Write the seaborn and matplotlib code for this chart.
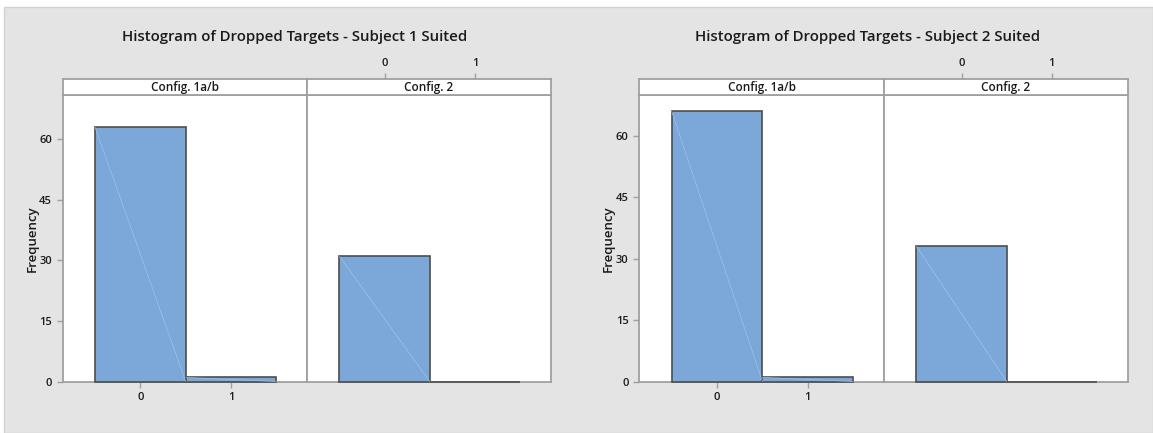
import matplotlib
matplotlib.use("Agg")
import matplotlib.pyplot as plt
import seaborn as sns
from matplotlib.patches import Rectangle

# ---------------------------------------------------------------------------
# Data (counts per number of dropped targets)
# ---------------------------------------------------------------------------
dropped = [0, 1]
configs = ["Config. 1a/b", "Config. 2"]
titles = ["Histogram of Dropped Targets - Subject 1 Suited",
          "Histogram of Dropped Targets - Subject 2 Suited"]
subj1_cfg1 = [63, 1]
subj1_cfg2 = [31, 0]
subj2_cfg1 = [66, 1]
subj2_cfg2 = [33, 0]
y_ticks = [0, 15, 30, 45, 60]

W, H = 1153, 433
BAR = "#7ba7d9"
EDGE = "#4d4d4d"
FRAME = "#a0a0a0"
TXT = "#1a1a1a"

sns.set_style("white")
plt.rcParams["font.family"] = ["Open Sans", "DejaVu Sans"]


def px_rect(x0, y0, x1, y1):
    # image pixel box (y down) -> figure fraction rect
    return [x0 / W, 1 - y1 / H, (x1 - x0) / W, (y1 - y0) / H]


fig = plt.figure(figsize=(W / 100, H / 100), dpi=100)
fig.patch.set_facecolor("white")
fig.patches.append(Rectangle((4 / W, 0), 1 - 4 / W, (H - 7) / H,
                             transform=fig.transFigure, facecolor="#e4e4e4",
                             edgecolor="#d2d2d2", linewidth=1.0, zorder=-10))

panels = [
    dict(x=(62.5, 307, 550.7), ylab_x=32, title_x=295, ytop=71.0,
         counts=[subj1_cfg1, subj1_cfg2], title=titles[0]),
    dict(x=(639, 884, 1127.5), ylab_x=608, title_x=868, ytop=70.0,
         counts=[subj2_cfg1, subj2_cfg2], title=titles[1]),
]
XLIM = (-0.86, 1.84)
STRIP_TOP, STRIP_BOT, AX_BOT = 79, 95, 381.5
TICK_KW = dict(colors=FRAME, labelcolor=TXT, labelsize=8, direction="out",
               length=4, width=1)

for p in panels:
    xs = p["x"]
    for i, (cfg, counts) in enumerate(zip(configs, p["counts"])):
        ax = fig.add_axes(px_rect(xs[i], STRIP_BOT, xs[i + 1], AX_BOT))
        ax.set_facecolor("white")
        sns.histplot(x=dropped, weights=counts, discrete=True, ax=ax,
                     color=BAR, edgecolor=EDGE, linewidth=1.2, alpha=1.0)
        # faint diagonal streak that Minitab leaves across each bar
        for bar in ax.patches:
            bar.set_zorder(3)
            bar.set_clip_on(False)
            if bar.get_height() > 0:
                ax.plot([bar.get_x(), bar.get_x() + bar.get_width()],
                        [bar.get_height(), 0], color="#a3c1e8", lw=0.5,
                        zorder=4)
        ax.set_xlim(*XLIM)
        ax.set_ylim(0, p["ytop"])
        for s in ax.spines.values():
            s.set_color(FRAME)
            s.set_linewidth(1.3)
        ax.set_xlabel("")
        ax.set_ylabel("")
        ax.tick_params(**TICK_KW)
        if i == 0:
            ax.set_yticks(y_ticks)
            ax.set_xticks(dropped)
            ax.tick_params(axis="both", left=True, bottom=True)
        else:
            ax.set_yticks([])
            ax.set_xticks([])
        for lab in ax.get_xticklabels() + ax.get_yticklabels():
            lab.set_fontweight("semibold")

        # strip header
        st = fig.add_axes(px_rect(xs[i], STRIP_TOP, xs[i + 1], STRIP_BOT))
        st.set_facecolor("white")
        st.set_xlim(*XLIM)
        st.set_yticks([])
        for s in st.spines.values():
            s.set_color(FRAME)
            s.set_linewidth(1.3)
        st.text(0.5, 0.45, cfg, transform=st.transAxes, ha="center",
                va="center", fontsize=8.5, fontweight="semibold", color=TXT)
        if i == 1:
            st.set_xticks(dropped)
            st.tick_params(axis="x", top=True, bottom=False, labeltop=True,
                           labelbottom=False, **TICK_KW)
            for lab in st.get_xticklabels():
                lab.set_fontweight("semibold")
        else:
            st.set_xticks([])

    fig.text(p["ylab_x"] / W, 1 - (STRIP_BOT + AX_BOT) / 2 / H, "Frequency",
             rotation=90, ha="center", va="center", fontsize=9.5,
             fontweight="semibold", color=TXT)
    fig.text(p["title_x"] / W, 1 - 37 / H, p["title"], ha="center",
             va="center", fontsize=10.8, fontweight="semibold", color=TXT)

fig.savefig("out.png", dpi=100)
plt.close(fig)
